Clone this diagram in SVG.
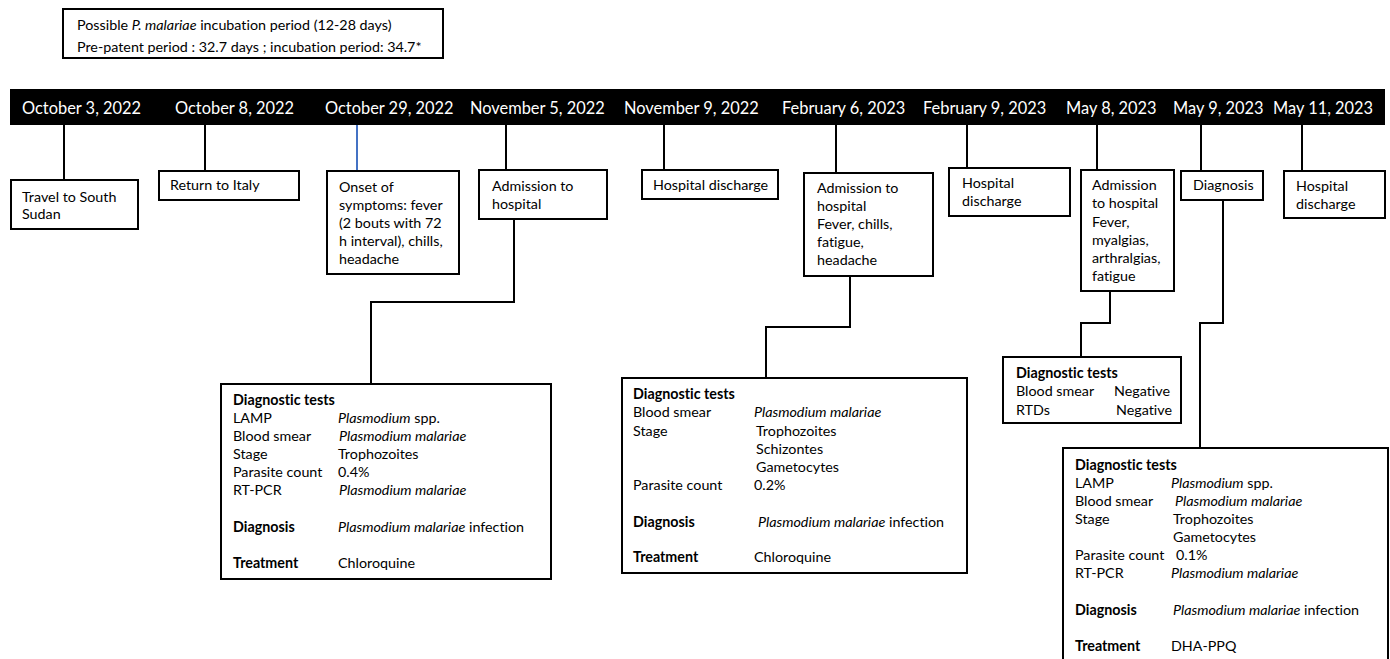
<svg xmlns="http://www.w3.org/2000/svg" width="1390" height="659" viewBox="0 0 1390 659">
<style>
text{font-family:Lato,"Liberation Sans",sans-serif;fill:#000;font-variant-ligatures:none}
.d{font-size:16.4px;fill:#fff}
.t{font-size:14.3px}
.b{font-weight:bold}
.i{font-style:italic}
.box{fill:#fff;stroke:#000;stroke-width:2}
.c{fill:none;stroke:#000;stroke-width:2}
</style>
<rect width="1390" height="659" fill="#fff"/>
<g id="note">
<rect class="box" x="63" y="9" width="380" height="49"/>
<text class="t" x="77" y="30">Possible <tspan class="i">P. malariae</tspan> incubation period (12-28 days)</text>
<text class="t" x="77" y="52">Pre-patent period : 32.7 days ; incubation period: 34.7*</text>
</g>
<g id="timeline">
<rect x="10" y="89" width="1375" height="36" fill="#000"/>
<text class="d" x="22" y="114">October 3, 2022</text>
<text class="d" x="175" y="114">October 8, 2022</text>
<text class="d" x="325" y="114">October 29, 2022</text>
<text class="d" x="470" y="114">November 5, 2022</text>
<text class="d" x="624" y="114">November 9, 2022</text>
<text class="d" x="782" y="114">February 6, 2023</text>
<text class="d" x="923" y="114">February 9, 2023</text>
<text class="d" x="1066" y="114">May 8, 2023</text>
<text class="d" x="1173" y="114">May 9, 2023</text>
<text class="d" x="1273" y="114">May 11, 2023</text>
</g>
<g id="connectors">
<path class="c" d="M64 125V180"/>
<path class="c" d="M205 125V171"/>
<path d="M357 125V171" fill="none" stroke="#4472c4" stroke-width="2"/>
<path class="c" d="M506 125V170"/>
<path class="c" d="M664 125V170"/>
<path class="c" d="M836 125V173"/>
<path class="c" d="M967 125V168"/>
<path class="c" d="M1097 125V170"/>
<path class="c" d="M1201 125V171"/>
<path class="c" d="M1302 125V171"/>
<path class="c" d="M514 219V302H371V384"/>
<path class="c" d="M850 276V327H766V378"/>
<path class="c" d="M1110 291V323H1081V357"/>
<path class="c" d="M1223 200V323H1200V448"/>
</g>
<g id="n1">
<rect class="box" x="11" y="180" width="127" height="49"/>
<text class="t" x="22" y="202">Travel to South</text>
<text class="t" x="22" y="219">Sudan</text>
</g>
<g id="n2">
<rect class="box" x="159" y="171" width="140" height="29"/>
<text class="t" x="170" y="190">Return to Italy</text>
</g>
<g id="n3">
<rect class="box" x="327" y="171" width="132" height="103"/>
<text class="t" x="339" y="192">Onset of</text>
<text class="t" x="339" y="210">symptoms: fever</text>
<text class="t" x="339" y="228">(2 bouts with 72</text>
<text class="t" x="339" y="246">h interval), chills,</text>
<text class="t" x="339" y="264">headache</text>
</g>
<g id="n4">
<rect class="box" x="479" y="170" width="128" height="49"/>
<text class="t" x="492" y="191">Admission to</text>
<text class="t" x="492" y="209">hospital</text>
</g>
<g id="n5">
<rect class="box" x="642" y="170" width="136" height="29"/>
<text class="t" x="653" y="190">Hospital discharge</text>
</g>
<g id="n6">
<rect class="box" x="804" y="173" width="129" height="103"/>
<text class="t" x="817" y="193">Admission to</text>
<text class="t" x="817" y="211">hospital</text>
<text class="t" x="817" y="229">Fever, chills,</text>
<text class="t" x="817" y="247">fatigue,</text>
<text class="t" x="817" y="265">headache</text>
</g>
<g id="n7">
<rect class="box" x="949" y="168" width="121" height="48"/>
<text class="t" x="962" y="188">Hospital</text>
<text class="t" x="962" y="206">discharge</text>
</g>
<g id="n8">
<rect class="box" x="1081" y="170" width="93" height="121"/>
<text class="t" x="1092" y="190">Admission</text>
<text class="t" x="1092" y="208">to hospital</text>
<text class="t" x="1092" y="227">Fever,</text>
<text class="t" x="1092" y="245">myalgias,</text>
<text class="t" x="1092" y="263">arthralgias,</text>
<text class="t" x="1092" y="281">fatigue</text>
</g>
<g id="n9">
<rect class="box" x="1181" y="171" width="82" height="29"/>
<text class="t" x="1193" y="190">Diagnosis</text>
</g>
<g id="n10">
<rect class="box" x="1284" y="171" width="101" height="47"/>
<text class="t" x="1296" y="191">Hospital</text>
<text class="t" x="1296" y="209">discharge</text>
</g>
<g id="d1">
<rect class="box" x="221" y="384" width="330" height="195"/>
<text class="t b" x="233" y="405">Diagnostic tests</text>
<text class="t" x="233" y="423">LAMP</text>
<text class="t" x="338" y="423"><tspan class="i">Plasmodium</tspan> spp.</text>
<text class="t" x="233" y="441">Blood smear</text>
<text class="t i" x="339" y="441">Plasmodium malariae</text>
<text class="t" x="233" y="459">Stage</text>
<text class="t" x="338" y="459">Trophozoites</text>
<text class="t" x="233" y="477">Parasite count</text>
<text class="t" x="338" y="477">0.4%</text>
<text class="t" x="233" y="495">RT-PCR</text>
<text class="t i" x="339" y="495">Plasmodium malariae</text>
<text class="t b" x="233" y="532">Diagnosis</text>
<text class="t" x="338" y="532"><tspan class="i">Plasmodium malariae</tspan> infection</text>
<text class="t b" x="233" y="568">Treatment</text>
<text class="t" x="338" y="568">Chloroquine</text>
</g>
<g id="d2">
<rect class="box" x="622" y="378" width="345" height="195"/>
<text class="t b" x="633" y="399">Diagnostic tests</text>
<text class="t" x="633" y="417">Blood smear</text>
<text class="t i" x="754" y="417">Plasmodium malariae</text>
<text class="t" x="633" y="436">Stage</text>
<text class="t" x="756" y="436">Trophozoites</text>
<text class="t" x="756" y="454">Schizontes</text>
<text class="t" x="756" y="472">Gametocytes</text>
<text class="t" x="633" y="490">Parasite count</text>
<text class="t" x="754" y="490">0.2%</text>
<text class="t b" x="633" y="527">Diagnosis</text>
<text class="t" x="758" y="527"><tspan class="i">Plasmodium malariae</tspan> infection</text>
<text class="t b" x="633" y="562">Treatment</text>
<text class="t" x="754" y="562">Chloroquine</text>
</g>
<g id="d3">
<rect class="box" x="1003" y="357" width="178" height="66"/>
<text class="t b" x="1016" y="378">Diagnostic tests</text>
<text class="t" x="1016" y="396">Blood smear</text>
<text class="t" x="1114" y="396">Negative</text>
<text class="t" x="1016" y="415">RTDs</text>
<text class="t" x="1116" y="415">Negative</text>
</g>
<g id="d4">
<rect class="box" x="1063" y="448" width="325" height="230"/>
<text class="t b" x="1075" y="470">Diagnostic tests</text>
<text class="t" x="1075" y="488">LAMP</text>
<text class="t" x="1171" y="488"><tspan class="i">Plasmodium</tspan> spp.</text>
<text class="t" x="1075" y="506">Blood smear</text>
<text class="t i" x="1175" y="506">Plasmodium malariae</text>
<text class="t" x="1075" y="524">Stage</text>
<text class="t" x="1173" y="524">Trophozoites</text>
<text class="t" x="1173" y="542">Gametocytes</text>
<text class="t" x="1075" y="560">Parasite count</text>
<text class="t" x="1176" y="560">0.1%</text>
<text class="t" x="1075" y="578">RT-PCR</text>
<text class="t i" x="1171" y="578">Plasmodium malariae</text>
<text class="t b" x="1075" y="615">Diagnosis</text>
<text class="t" x="1173" y="615"><tspan class="i">Plasmodium malariae</tspan> infection</text>
<text class="t b" x="1075" y="651">Treatment</text>
<text class="t" x="1171" y="651">DHA-PPQ</text>
</g>
</svg>
